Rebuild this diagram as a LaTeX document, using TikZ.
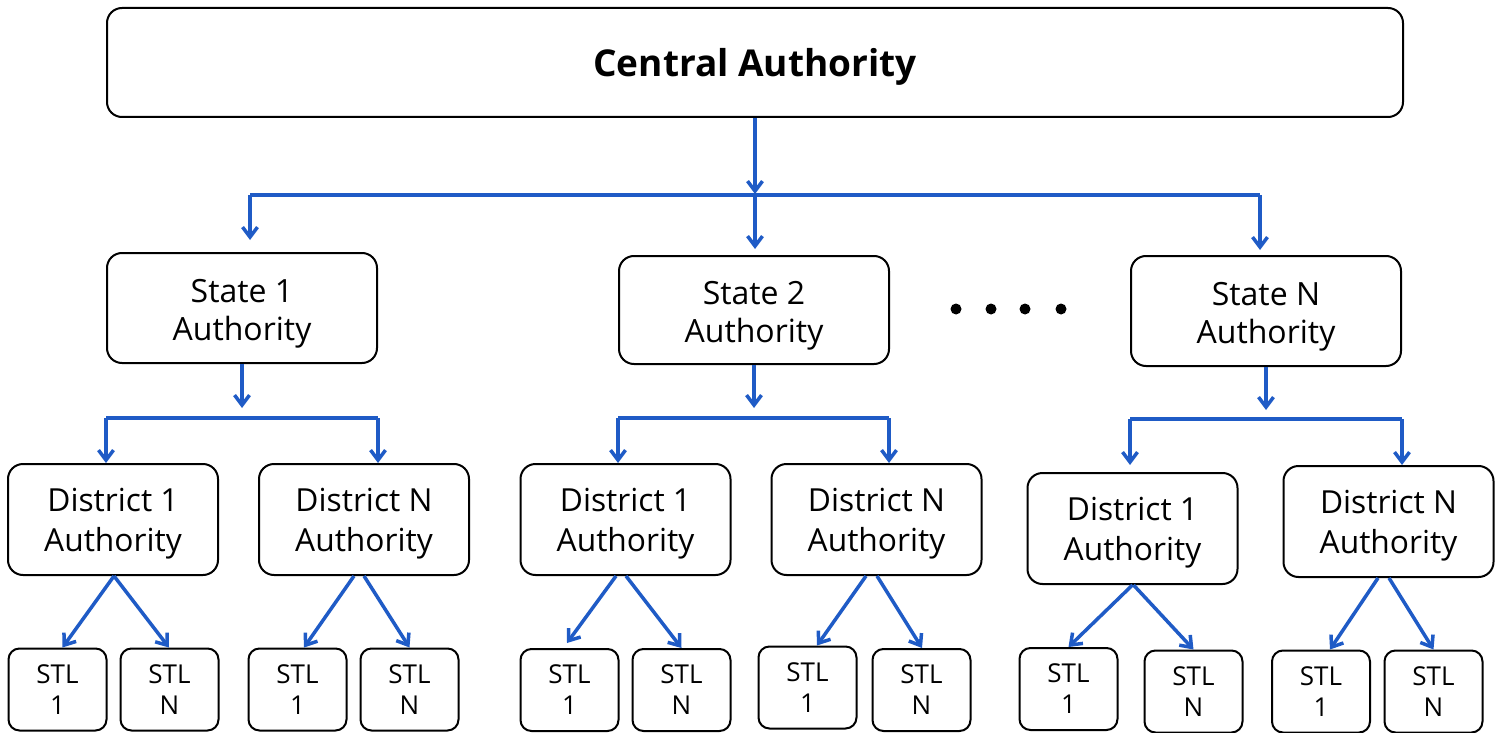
\documentclass[tikz,border=0pt]{standalone}
\usepackage{fontspec}
\setmainfont{Open Sans}
\usetikzlibrary{arrows.meta,calc}
\definecolor{lblue}{HTML}{1F5BC6}
\begin{document}
\begin{tikzpicture}[x=1pt,y=-1pt,
  basebox/.style={draw=black, line width=2pt, inner sep=0pt, align=center, fill=white},
  cbox/.style={basebox, rounded corners=15pt, minimum width=1296pt, minimum height=109pt,
     font=\fontsize{37}{44}\selectfont\bfseries, text height=37pt, text depth=9pt},
  sbox/.style={basebox, rounded corners=15pt, minimum width=270pt, minimum height=110pt,
     font=\fontsize{32}{38}\selectfont, text height=73.5pt},
  dbox/.style={basebox, rounded corners=15pt, minimum width=210pt, minimum height=111pt,
     font=\fontsize{31.75}{40}\selectfont, text height=71.7pt},
  tbox/.style={basebox, rounded corners=11pt, minimum width=98pt, minimum height=82pt,
     font=\fontsize{26}{31}\selectfont},
  link/.style={draw=lblue, line width=3.5pt},
  arr/.style={link, -{Straight Barb[length=10pt,width=15pt]}},
  dot/.style={fill=black}
]
\useasboundingbox (0,0) rectangle (1502,733);

% nodes
\node[cbox] (ca) at (755,62.5) {Central Authority};

\node[sbox] (s1) at (242,308) {State 1\\Authority};
\node[sbox, minimum height=108pt] (s2) at (754,310) {State 2\\Authority};
\node[sbox] (sN) at (1266,311) {State N\\Authority};

\node[dbox] (d11) at (113,519.5) {District 1\\Authority};
\node[dbox] (d1N) at (364,519.5) {District N\\Authority};
\node[dbox] (d21) at (625.5,519.5) {District 1\\Authority};
\node[dbox] (d2N) at (876.5,519.5) {District N\\Authority};
\node[dbox] (dN1) at (1132.5,528.5) {District 1\\Authority};
\node[dbox] (dNN) at (1388.5,521.5) {District N\\Authority};

\node[tbox] (t111) at (57.5,689.5) {STL\\1};
\node[tbox] (t11N) at (169.5,689.5) {STL\\N};
\node[tbox] (t1N1) at (297.5,689.5) {STL\\1};
\node[tbox] (t1NN) at (409.5,689.5) {STL\\N};
\node[tbox] (t211) at (569.5,690) {STL\\1};
\node[tbox] (t21N) at (681.5,690) {STL\\N};
\node[tbox] (t2N1) at (807.5,687.5) {STL\\1};
\node[tbox] (t2NN) at (921.5,690) {STL\\N};
\node[tbox] (tN11) at (1068.5,689) {STL\\1};
\node[tbox] (tN1N) at (1193.5,691.5) {STL\\N};
\node[tbox] (tNN1) at (1321,691.5) {STL\\1};
\node[tbox] (tNNN) at (1433.5,691.5) {STL\\N};

% ellipsis dots
\fill[dot] (956,309) circle (5.5pt);
\fill[dot] (991,309) circle (5.5pt);
\fill[dot] (1025,309) circle (5.5pt);
\fill[dot] (1061,309) circle (5.5pt);

% level 1
\coordinate (b0L) at (250,195);
\coordinate (b0M) at (755,195);
\coordinate (b0R) at (1260,195);
\draw[arr] (ca.south) -- ([yshift=1pt]b0M);
\draw[link] (b0L) -- (b0R);
\draw[arr] (b0L) -- ([yshift=12pt]b0L |- s1.north);
\draw[arr] (b0M) -- ([yshift=6pt]b0M |- s2.north);
\draw[arr] (b0R) -- ([yshift=5pt]b0R |- sN.north);

% state 1 group
\coordinate (b1L) at (106,418);
\coordinate (b1R) at (378,418);
\draw[arr] (s1.south) -- ([yshift=10pt]s1.south |- b1L);
\draw[link] (b1L) -- (b1R);
\draw[arr] (b1L) -- (b1L |- d11.north);
\draw[arr] (b1R) -- (b1R |- d1N.north);

% state 2 group
\coordinate (b2L) at (618,418);
\coordinate (b2R) at (889,418);
\draw[arr] (s2.south) -- ([yshift=10pt]s2.south |- b2L);
\draw[link] (b2L) -- (b2R);
\draw[arr] (b2L) -- (b2L |- d21.north);
\draw[arr] (b2R) -- (b2R |- d2N.north);

% state N group
\coordinate (bNL) at (1130,419);
\coordinate (bNR) at (1402,419);
\draw[arr] (sN.south) -- ([yshift=9pt]sN.south |- bNL);
\draw[link] (bNL) -- (bNR);
\draw[arr] (bNL) -- ([yshift=7pt]bNL |- dN1.north);
\draw[arr] (bNR) -- (bNR |- dNN.north);

% district to STL
\draw[arr] ([xshift=1pt]d11.south) -- ([xshift=5pt]t111.north);
\draw[arr] ([xshift=1pt]d11.south) -- ([xshift=-0.5pt]t11N.north);
\draw[arr] ([xshift=-10pt]d1N.south) -- ([xshift=6.5pt]t1N1.north);
\draw[arr] (d1N.south) -- (t1NN.north);
\draw[arr] ([xshift=-9.5pt]d21.south) -- ([xshift=-2.5pt,yshift=5pt]t211.north);
\draw[arr] ([xshift=0.5pt]d21.south) -- (t21N.north);
\draw[arr] ([xshift=-10.5pt]d2N.south) -- ([xshift=9.5pt]t2N1.north);
\draw[arr] ([xshift=0.5pt]d2N.south) -- ([xshift=0.5pt]t2NN.north);
\draw[arr] (dN1.south) -- (tN11.north);
\draw[arr] ([xshift=1pt]dN1.south) -- (tN1N.north);
\draw[arr] ([xshift=-10.5pt]dNN.south) -- ([xshift=9pt]tNN1.north);
\draw[arr] ([xshift=0.5pt]dNN.south) -- (tNNN.north);
\end{tikzpicture}
\end{document}
